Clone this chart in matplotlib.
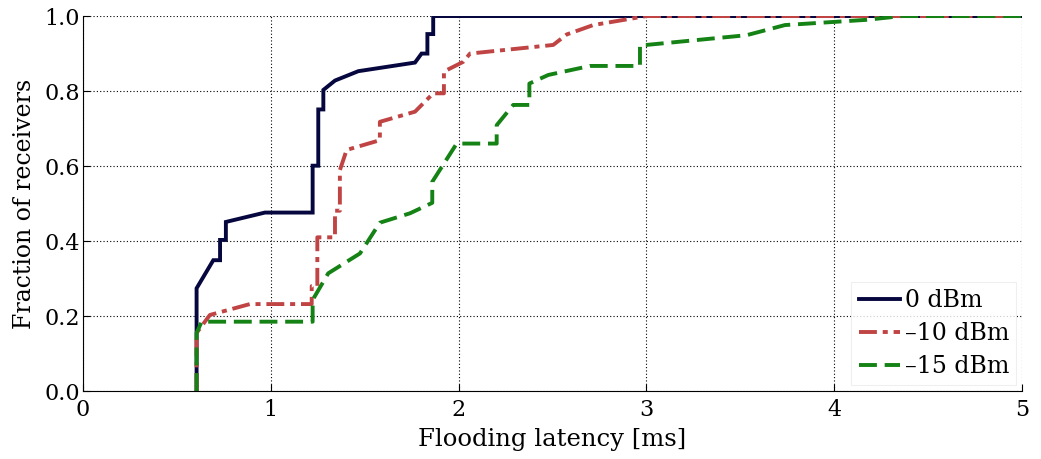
import numpy as np
import matplotlib
matplotlib.use("Agg")
import matplotlib.pyplot as plt

# CDF of flooding latency per transmit power
x_0dbm = [0.605, 0.605, 0.605, 0.694, 0.73, 0.73, 0.761, 0.761, 0.969, 1.223, 1.223,
          1.253, 1.253, 1.280, 1.280, 1.342, 1.466, 1.768, 1.803, 1.834, 1.834,
          1.865, 1.865, 5.0]
y_0dbm = [0.0, 0.155, 0.274, 0.349, 0.349, 0.403, 0.403, 0.451, 0.476, 0.476, 0.601,
          0.601, 0.751, 0.751, 0.803, 0.828, 0.853, 0.876, 0.9, 0.9, 0.952,
          0.952, 1.0, 1.0]

x_10dbm = [0.605, 0.605, 0.676, 0.889, 1.218, 1.218, 1.248, 1.248, 1.297, 1.342, 1.342,
           1.368, 1.368, 1.404, 1.581, 1.581, 1.768, 1.865, 1.922, 1.922, 2.025,
           2.061, 2.504, 2.576, 2.717, 3.0, 5.0]
y_10dbm = [0.0, 0.155, 0.203, 0.232, 0.232, 0.28, 0.28, 0.41, 0.41, 0.41, 0.481,
           0.481, 0.589, 0.643, 0.669, 0.718, 0.745, 0.794, 0.794, 0.852, 0.878,
           0.9, 0.923, 0.951, 0.976, 1.0, 1.0]

x_15dbm = [0.605, 0.605, 0.632, 1.223, 1.223, 1.306, 1.475, 1.581, 1.741, 1.86, 1.86,
           1.99, 2.203, 2.203, 2.291, 2.377, 2.377, 2.478, 2.7, 2.966, 2.966,
           3.0, 3.534, 3.738, 4.173, 4.36, 5.0]
y_15dbm = [0.0, 0.155, 0.185, 0.185, 0.243, 0.314, 0.367, 0.449, 0.474, 0.502, 0.558,
           0.66, 0.66, 0.709, 0.763, 0.763, 0.82, 0.843, 0.867, 0.867, 0.923,
           0.923, 0.949, 0.976, 0.99, 1.0, 1.0]

labels = ["0 dBm", "\u201310 dBm", "\u201315 dBm"]
x_ticks = [0, 1, 2, 3, 4, 5]
y_ticks = [0.0, 0.2, 0.4, 0.6, 0.8, 1.0]

plt.rcParams["font.family"] = ["DejaVu Serif"]

fig = plt.figure(figsize=(10.41, 4.59), dpi=100)
ax = fig.add_axes([0.0797, 0.148, 0.902, 0.817])

lw = 2.8
ax.plot(x_0dbm, y_0dbm, color="#07073f", lw=lw, label=labels[0],
        solid_joinstyle="miter")
l2, = ax.plot(x_10dbm, y_10dbm, color="#c04444", lw=lw, label=labels[1])
l2.set_dashes((4.6, 1.5, 1.3, 1.5))
l3, = ax.plot(x_15dbm, y_15dbm, color="#148214", lw=lw, label=labels[2])
l3.set_dashes((4.6, 2.0))

ax.set_xlim(0, 5)
ax.set_ylim(0, 1)
ax.set_xticks(x_ticks)
ax.set_yticks(y_ticks)
ax.set_xticklabels([str(t) for t in x_ticks])
ax.set_yticklabels([f"{t:.1f}" for t in y_ticks])
ax.tick_params(direction="in", labelsize=16, length=5)
ax.tick_params(axis="x", pad=6)
ax.tick_params(axis="y", pad=2)
ax.grid(True, color="black", linestyle=(0, (1, 2)), linewidth=0.8)
ax.spines["top"].set_visible(False)
ax.spines["right"].set_visible(False)

ax.set_xlabel("Flooding latency [ms]", fontsize=17.5, labelpad=5)
ax.set_ylabel("Fraction of receivers", fontsize=17, labelpad=6)

leg = ax.legend(loc="lower right", fontsize=17, frameon=True, fancybox=False,
                handlelength=1.75, handletextpad=0.2, borderpad=0.3,
                labelspacing=0.42, borderaxespad=0.25)
leg.get_frame().set_edgecolor("#ececec")
leg.get_frame().set_linewidth(0.8)

fig.savefig("out.png", dpi=100)
